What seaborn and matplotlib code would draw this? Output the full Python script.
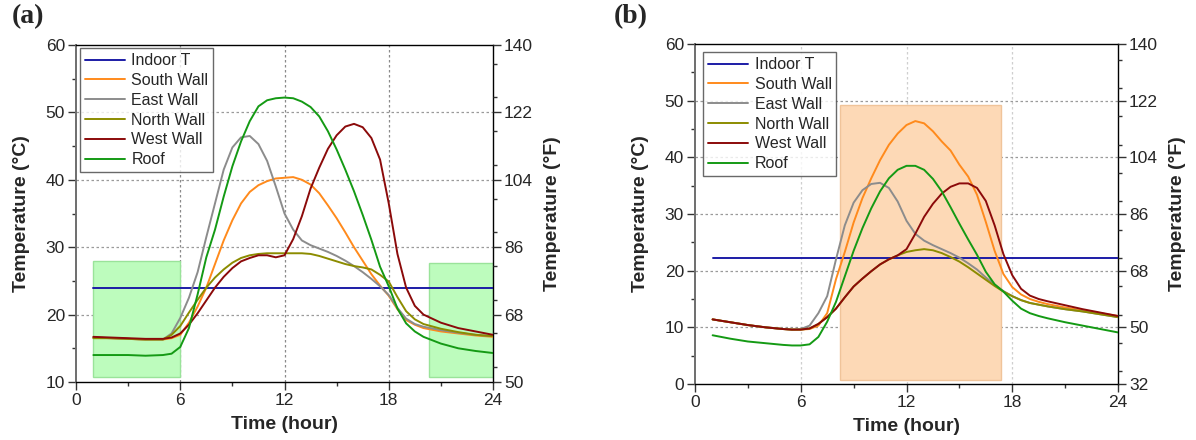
import matplotlib
matplotlib.use("Agg")
import matplotlib.pyplot as plt
from matplotlib.patches import Rectangle
from matplotlib.ticker import MultipleLocator
import seaborn as sns

sns.set_theme(style="ticks")
plt.rcParams["font.family"] = ["Liberation Sans", "DejaVu Sans"]

# ---------------------------------------------------------------------------
# Données
# ---------------------------------------------------------------------------
heures = [1, 2, 3, 4, 5, 5.5, 6, 6.5, 7, 7.5, 8, 8.5, 9, 9.5, 10, 10.5, 11, 11.5,
          12, 12.5, 13, 13.5, 14, 14.5, 15, 15.5, 16, 16.5, 17, 17.5, 18, 18.5,
          19, 19.5, 20, 21, 22, 23, 24]

series = ["Indoor T", "South Wall", "East Wall", "North Wall", "West Wall", "Roof"]
couleurs = ["#1c1ca6", "#ff8a1c", "#8c8c8c", "#8c8c00", "#8b0a0a", "#149a14"]

# (a)
a_indoor = [24.0] * len(heures)
a_south = [16.6, 16.5, 16.4, 16.3, 16.3, 16.5, 17.0, 18.8, 21.2, 24.0, 27.5, 31.0,
           34.0, 36.5, 38.2, 39.2, 39.8, 40.2, 40.3, 40.4, 40.0, 39.3, 38.0, 36.2,
           34.3, 32.2, 30.0, 28.0, 26.0, 24.3, 22.8, 20.8, 19.2, 18.5, 18.0, 17.5,
           17.2, 16.9, 16.7]
a_east = [16.6, 16.5, 16.4, 16.3, 16.3, 17.2, 19.5, 22.5, 26.3, 31.5, 36.5, 41.5,
          44.8, 46.3, 46.5, 45.3, 42.8, 39.0, 35.0, 32.6, 31.0, 30.3, 29.8, 29.3,
          28.7, 28.0, 27.2, 26.3, 25.3, 24.2, 22.9, 21.0, 19.4, 18.6, 18.2, 17.7,
          17.3, 17.0, 16.8]
a_north = [16.5, 16.5, 16.4, 16.3, 16.3, 17.0, 18.3, 20.3, 22.2, 24.0, 25.5, 26.7,
           27.7, 28.4, 28.8, 29.0, 29.1, 29.1, 29.1, 29.1, 29.1, 29.0, 28.7, 28.3,
           27.9, 27.5, 27.2, 27.0, 26.7, 25.9, 24.9, 22.6, 20.5, 19.3, 18.6, 17.9,
           17.4, 17.0, 16.8]
a_west = [16.7, 16.6, 16.5, 16.4, 16.4, 16.6, 17.2, 18.5, 20.2, 22.1, 24.0, 25.6,
          26.9, 27.9, 28.4, 28.8, 28.8, 28.5, 28.8, 31.2, 34.6, 38.7, 41.8, 44.6,
          46.6, 47.9, 48.3, 47.8, 46.2, 43.0, 36.5, 29.0, 24.0, 21.3, 20.0, 18.8,
          18.0, 17.5, 17.0]
a_roof = [14.0, 14.0, 14.0, 13.9, 14.0, 14.2, 15.2, 18.0, 23.0, 28.5, 32.6, 37.5,
          42.0, 45.7, 48.7, 50.9, 51.8, 52.1, 52.2, 52.1, 51.6, 50.8, 49.4, 47.2,
          44.5, 41.5, 38.3, 34.8, 31.1, 27.1, 24.2, 20.9, 18.7, 17.5, 16.7, 15.7,
          15.0, 14.6, 14.3]

# (b)
b_indoor = [22.2] * len(heures)
b_south = [11.4, 10.9, 10.4, 10.0, 9.7, 9.6, 9.6, 9.7, 10.3, 12.5, 18.5, 23.3,
           28.5, 32.8, 36.3, 39.5, 42.2, 44.2, 45.7, 46.4, 46.0, 44.6, 42.8, 41.2,
           38.7, 36.6, 33.4, 28.6, 23.5, 19.4, 17.1, 15.8, 15.0, 14.5, 14.1, 13.5,
           13.0, 12.5, 12.0]
b_east = [11.4, 10.9, 10.4, 10.0, 9.7, 9.6, 9.7, 10.3, 12.5, 15.5, 22.0, 28.0,
          32.0, 34.2, 35.3, 35.5, 34.6, 32.2, 28.8, 26.5, 25.3, 24.5, 23.8, 23.1,
          22.3, 21.3, 20.2, 18.8, 17.5, 16.4, 15.5, 14.8, 14.3, 14.0, 13.7, 13.2,
          12.8, 12.3, 11.8]
b_north = [11.4, 10.9, 10.4, 10.0, 9.7, 9.6, 9.6, 9.8, 10.6, 11.8, 13.3, 15.3,
           17.2, 18.6, 19.9, 21.1, 22.0, 22.7, 23.3, 23.6, 23.8, 23.6, 23.1, 22.4,
           21.6, 20.6, 19.5, 18.4, 17.3, 16.3, 15.5, 14.8, 14.3, 14.0, 13.7, 13.2,
           12.8, 12.3, 11.8]
b_west = [11.4, 10.9, 10.4, 10.0, 9.7, 9.6, 9.6, 9.8, 10.6, 11.8, 13.3, 15.3,
          17.2, 18.6, 19.9, 21.1, 22.0, 22.7, 23.8, 26.5, 29.5, 31.8, 33.6, 34.8,
          35.4, 35.4, 34.6, 32.3, 28.0, 22.9, 19.2, 16.8, 15.6, 15.0, 14.6, 13.9,
          13.2, 12.6, 12.0]
b_roof = [8.6, 8.0, 7.5, 7.2, 6.9, 6.8, 6.8, 7.0, 8.3, 11.0, 14.5, 19.0,
          23.5, 27.5, 31.0, 34.0, 36.3, 37.8, 38.5, 38.5, 37.8, 36.2, 34.0, 31.2,
          28.3, 25.5, 22.8, 19.8, 17.6, 16.3, 14.7, 13.3, 12.5, 12.0, 11.6, 10.9,
          10.3, 9.7, 9.1]

# zones ombrées (heure début, heure fin, T bas, T haut)
a_zones = [(1.0, 6.0, 10.8, 27.9), (20.3, 24.0, 10.8, 27.6)]
b_zones = [(8.2, 17.35, 0.7, 49.3)]


def tracer_panneau(fig, rect, valeurs, zones, zone_style, ylim, yf_lim, yf_ticks,
                   lettre, lettre_x, leg_anchor, vgrid_color):
    ax = fig.add_axes(rect)
    for (x0, x1, y0, y1) in zones:
        ax.add_patch(Rectangle((x0, y0), x1 - x0, y1 - y0, zorder=1, **zone_style))
    for nom, coul, vals in zip(series, couleurs, valeurs):
        sns.lineplot(x=heures, y=vals, ax=ax, color=coul, lw=1.4, label=nom, zorder=3)

    ax.set_xlim(0, 24)
    ax.set_ylim(*ylim)
    ax.xaxis.set_major_locator(MultipleLocator(6))
    ax.xaxis.set_minor_locator(MultipleLocator(3))
    ax.yaxis.set_major_locator(MultipleLocator(10))
    ax.yaxis.set_minor_locator(MultipleLocator(5))
    ax.tick_params(which="major", direction="out", length=6, width=1,
                   labelsize=12.5, color="#333333", pad=2)
    ax.tick_params(which="minor", direction="out", length=3, width=1, color="#333333")
    ax.grid(False)
    for v in [6, 12, 18]:
        ax.axvline(v, color=vgrid_color, lw=0.9, ls=(0, (2, 2)), zorder=0)
    for h in range(int(ylim[0]) + 10, int(ylim[1]), 10):
        ax.axhline(h, color="#9a9a9a", lw=0.9, ls=(0, (2, 2)), zorder=0)

    ax.spines["left"].set_color("#6e6e6e")
    ax.spines["left"].set_linewidth(1.4)
    for s in ["top", "bottom", "right"]:
        ax.spines[s].set_color("black")
        ax.spines[s].set_linewidth(1.0)

    ax.set_xlabel("Time (hour)", fontsize=14, fontweight="bold", labelpad=6)
    ax.set_ylabel("Temperature (°C)", fontsize=14, fontweight="bold", labelpad=11)

    leg = ax.legend(loc="upper left", bbox_to_anchor=leg_anchor, borderaxespad=0,
                    fontsize=11.5, handlelength=2.5, handletextpad=0.4,
                    labelspacing=0.3, borderpad=0.3, frameon=True, fancybox=False)
    leg.get_frame().set_edgecolor("#444444")
    leg.get_frame().set_linewidth(1.0)
    leg.set_zorder(5)

    ax2 = ax.twinx()
    ax2.set_ylim(*yf_lim)
    ax2.set_yticks(yf_ticks)
    ax2.yaxis.set_minor_locator(MultipleLocator(9))
    ax2.tick_params(which="major", direction="out", length=6, width=1,
                    labelsize=12.5, color="#333333", pad=2)
    ax2.tick_params(which="minor", direction="out", length=3, width=1, color="#333333")
    ax2.set_ylabel("Temperature (°F)", fontsize=14, fontweight="bold", labelpad=8)
    for s in ax2.spines.values():
        s.set_visible(False)
    ax2.grid(False)

    fig.text(lettre_x, 0.99, lettre, fontsize=20, fontweight="bold",
             family=["Liberation Serif", "DejaVu Serif"], va="top", ha="left")
    return ax


fig = plt.figure(figsize=(11.96, 4.4), dpi=100)

tracer_panneau(
    fig, [76 / 1196, 58 / 440, 417 / 1196, 337 / 440],
    [a_indoor, a_south, a_east, a_north, a_west, a_roof],
    a_zones, dict(facecolor="#bdfcbd", edgecolor="#9ae39a", lw=1.0),
    (10, 60), (50, 140), [50, 68, 86, 104, 122, 140],
    "(a)", 12 / 1196, (0.01, 0.99), "#8a8a8a",
)
tracer_panneau(
    fig, [695 / 1196, 56 / 440, 423 / 1196, 340 / 440],
    [b_indoor, b_south, b_east, b_north, b_west, b_roof],
    b_zones, dict(facecolor="#fdd9b6", edgecolor="#f0c49a", lw=1.0),
    (0, 60), (32, 140), [32, 50, 68, 86, 104, 122, 140],
    "(b)", 614 / 1196, (0.02, 0.975), "#cfcfcf",
)

fig.savefig("out.png", dpi=100)
